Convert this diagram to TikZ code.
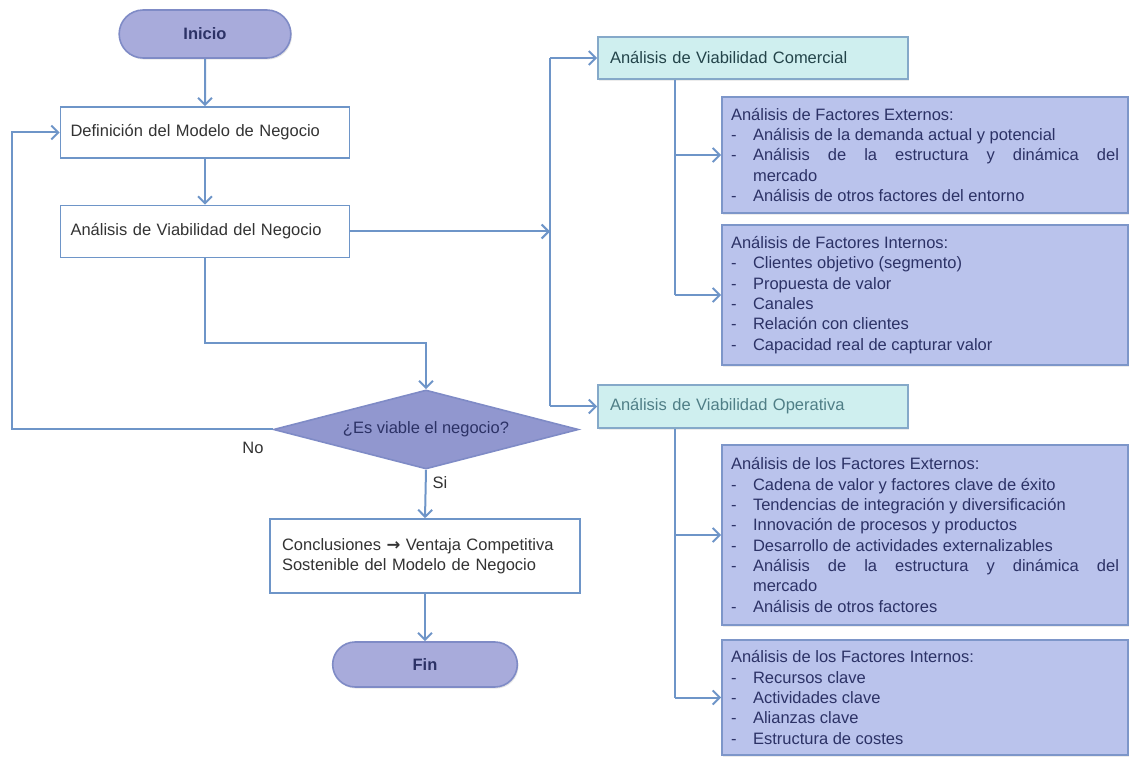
\documentclass[tikz,border=0pt]{standalone}
\usepackage{fontspec}
\setmainfont{Liberation Sans}
\newfontfamily\arrowfont{DejaVu Sans}
\usetikzlibrary{shapes.geometric,shapes.misc,arrows.meta,shadows}
\definecolor{flowblue}{HTML}{6E95C8}
\definecolor{lavender}{HTML}{A8ABDB}
\definecolor{pillline}{HTML}{7F8BC6}
\definecolor{factfill}{HTML}{BAC3EC}
\definecolor{factline}{HTML}{7D96C9}
\definecolor{diamfill}{HTML}{9197CF}
\definecolor{cyanfill}{HTML}{CFEFEF}
\definecolor{cyanline}{HTML}{85A9C9}
\definecolor{navytext}{HTML}{2C3266}
\definecolor{tealtext}{HTML}{23444A}
\definecolor{paletext}{HTML}{4F7E86}
\newcommand{\itm}[1]{\par\hangindent=11pt\hangafter=1\noindent\makebox[11pt][l]{-}#1}

\begin{document}
\begin{tikzpicture}[x=0.5pt,y=-0.5pt,
	font=\fontsize{8.25}{10.15}\selectfont,
	flow/.style={draw=flowblue, line width=1pt, -{Straight Barb[length=3.5pt,width=7pt]}},
	link/.style={draw=flowblue, line width=1pt},
	startstop/.style={rounded rectangle, draw=pillline, line width=0.8pt, fill=lavender, text=navytext, font=\fontsize{8.25}{10}\selectfont\bfseries, drop shadow={opacity=0.2,shadow xshift=0.6pt,shadow yshift=-0.8pt}},
	stepbox/.style={rectangle, draw=flowblue, line width=0.8pt, fill=white, text=black!80, align=left, inner xsep=5pt, text width=134.5pt, minimum height=25.5pt},
	decide/.style={diamond, aspect=3.86, inner sep=0pt, draw=pillline, line width=0.8pt, fill=diamfill, text=navytext, minimum width=152.5pt, minimum height=39.5pt},
	viabox/.style={rectangle, draw=cyanline, line width=0.8pt, fill=cyanfill, align=left, inner xsep=6pt, text width=143pt, minimum height=21pt, drop shadow={opacity=0.15,shadow xshift=0.6pt,shadow yshift=-0.8pt}},
	factbox/.style={rectangle, draw=factline, line width=0.9pt, fill=factfill, text=navytext, align=justify, inner xsep=4.5pt, text width=194pt, drop shadow={opacity=0.15,shadow xshift=0.6pt,shadow yshift=-0.8pt}},
	lbl/.style={text=black!80, inner sep=1pt}]
	\useasboundingbox (0,0) rectangle (1129,758);
	%Main flow
	\node[startstop, minimum width=92.5pt, minimum height=24pt] (inicio) at (205,34) {Inicio};
	\node[stepbox] (modelo) at (205,132.5) {Definición del Modelo de Negocio};
	\node[stepbox, minimum height=26pt] (viab) at (205,231.5) {Análisis de Viabilidad del Negocio};
	\node[decide] (viable) at (426,429.5) {¿Es viable el negocio?};
	\node[stepbox, text width=143pt, inner xsep=6pt, minimum height=37pt] (concl) at (425,556) {Conclusiones {\arrowfont\bfseries →} Ventaja Competitiva\\Sostenible del Modelo de Negocio};
	\node[startstop, minimum width=99pt, minimum height=22.5pt] (fin) at (425,664.5) {Fin};
	%Viability boxes
	\node[viabox, text=tealtext] (comercial) at (753,58) {Análisis de Viabilidad Comercial};
	\node[viabox, text=paletext, minimum height=21.5pt] (operativa) at (753,406.5) {Análisis de Viabilidad Operativa};
	\node[factbox, minimum height=58pt] (extcom) at (925,155) {Análisis de Factores Externos:
		\itm{Análisis de la demanda actual y potencial}
		\itm{Análisis de la estructura y dinámica del\linebreak mercado}
		\itm{Análisis de otros factores del entorno}};
	\node[factbox, minimum height=70pt] (intcom) at (925,295) {Análisis de Factores Internos:
		\itm{Clientes objetivo (segmento)}
		\itm{Propuesta de valor}
		\itm{Canales}
		\itm{Relación con clientes}
		\itm{Capacidad real de capturar valor}};
	\node[factbox, minimum height=90pt] (extope) at (925,535) {Análisis de los Factores Externos:
		\itm{Cadena de valor y factores clave de éxito}
		\itm{Tendencias de integración y diversificación}
		\itm{Innovación de procesos y productos}
		\itm{Desarrollo de actividades externalizables}
		\itm{Análisis de la estructura y dinámica del\linebreak mercado}
		\itm{Análisis de otros factores}};
	\node[factbox, minimum height=57.5pt] (intope) at (925,697.5) {Análisis de los Factores Internos:
		\itm{Recursos clave}
		\itm{Actividades clave}
		\itm{Alianzas clave}
		\itm{Estructura de costes}};
	%Helper coordinates for the bus lines
	\coordinate (loopx) at (12,0);
	\coordinate (split) at (550,0);
	\coordinate (bus) at (675,0);
	%Arrows of the main flow
	\draw[flow] (inicio) -- (modelo);
	\draw[flow] (modelo) -- (viab);
	\draw[flow] (viab.south) -- ++(0,85) -| (viable.north);
	\draw[flow] (viable.west) -- (viable.west -| loopx) |- (modelo.west);
	\draw[flow] (viable.south) -- (concl.north);
	\draw[flow] (concl.south) -- (fin.north);
	%Arrows to the viability analyses
	\draw[flow] (viab.east) -- (viab.east -| split);
	\draw[link] (split |- comercial.west) -- (split |- operativa.west);
	\draw[flow] (split |- comercial.west) -- (comercial.west);
	\draw[flow] (split |- operativa.west) -- (operativa.west);
	\draw[link] (comercial.south -| bus) -- (bus |- intcom.west);
	\draw[flow] (bus |- extcom.west) -- (extcom.west);
	\draw[flow] (bus |- intcom.west) -- (intcom.west);
	\draw[link] (operativa.south -| bus) -- (bus |- intope.west);
	\draw[flow] (bus |- extope.west) -- (extope.west);
	\draw[flow] (bus |- intope.west) -- (intope.west);
	%Labels
	\node[lbl] (no) at (253,448) {No};
	\node[lbl] (si) at (440,483) {Si};
\end{tikzpicture}
\end{document}
